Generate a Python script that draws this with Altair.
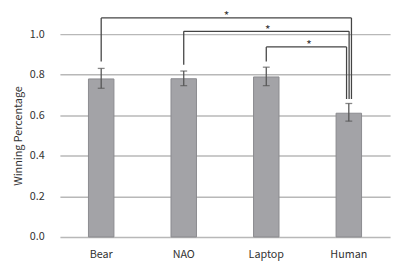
import altair as alt
import pandas as pd

categories = ["Bear", "NAO", "Laptop", "Human"]
win_pct = [0.779, 0.780, 0.789, 0.610]
err_low = [0.733, 0.746, 0.746, 0.571]
err_high = [0.831, 0.818, 0.837, 0.658]

br_left = ["Bear", "NAO", "Laptop"]
br_top = [1.080, 1.014, 0.937]
br_left_bottom = [0.865, 0.849, 0.865]
br_right_bottom = [0.680, 0.680, 0.680]
br_right_offset = [2.7, 0.3, -2.3]
star_y = [1.088, 1.022, 0.944]
star_label = ["*", "*", "*"]

FONT = "Noto Sans CJK JP"
xscale = alt.Scale(domain=categories, paddingInner=0, paddingOuter=0)

df = pd.DataFrame({"cat": categories, "v": win_pct, "lo": err_low, "hi": err_high})

xenc = alt.X("cat:N", scale=xscale, title=None,
             axis=alt.Axis(labelAngle=0, ticks=False, domain=False, labelPadding=12,
                           labelFont=FONT, labelFontSize=11, labelColor="#333"))
yenc = alt.Y("v:Q", title="Winning Percentage",
             scale=alt.Scale(domain=[0, 1], nice=False),
             axis=alt.Axis(values=[0, 0.2, 0.4, 0.6, 0.8, 1.0], format=".1f",
                           ticks=False, domain=False, gridColor="#b8b8b8", gridWidth=1.5,
                           labelPadding=16, labelFont=FONT, labelFontSize=11, labelColor="#333",
                           titleFont=FONT, titleFontSize=11, titleFontWeight="normal",
                           titleColor="#333", titlePadding=6))

xs = alt.X("cat:N", scale=xscale)
bars = alt.Chart(df).mark_bar(size=26, color="#a3a3a7", stroke="#8a8a8e", strokeWidth=1).encode(x=xenc, y=yenc)
errs = alt.Chart(df).mark_rule(color="#555", strokeWidth=1.3).encode(x=xs, y="lo:Q", y2="hi:Q")
caps_lo = alt.Chart(df).mark_tick(color="#555", size=7, thickness=1.3, orient="horizontal").encode(x=xs, y="lo:Q")
caps_hi = alt.Chart(df).mark_tick(color="#555", size=7, thickness=1.3, orient="horizontal").encode(x=xs, y="hi:Q")

layers = [bars, errs, caps_lo, caps_hi]
idx = {c: i for i, c in enumerate(categories)}
for i in range(len(br_left)):
    d = pd.DataFrame({"l": [br_left[i]], "r": ["Human"], "top": [br_top[i]],
                      "lb": [br_left_bottom[i]], "rb": [br_right_bottom[i]],
                      "sy": [star_y[i]], "s": [star_label[i]]})
    off = br_right_offset[i]
    h = alt.Chart(d).mark_rule(color="#444", strokeWidth=1.3, x2Offset=off).encode(
        x=alt.X("l:N", scale=xscale), x2="r:N", y="top:Q")
    lv = alt.Chart(d).mark_rule(color="#444", strokeWidth=1.3).encode(
        x=alt.X("l:N", scale=xscale), y="lb:Q", y2="top:Q")
    rv = alt.Chart(d).mark_rule(color="#444", strokeWidth=1.3, xOffset=off).encode(
        x=alt.X("r:N", scale=xscale), y="rb:Q", y2="top:Q")
    dx = (idx["Human"] - idx[br_left[i]]) * 84.25 / 2 + 1.5
    st = alt.Chart(d).mark_text(font=FONT, fontSize=12, color="#333", baseline="middle", dx=dx).encode(
        x=alt.X("l:N", scale=xscale), y="sy:Q", text="s:N")
    layers += [h, lv, rv, st]

chart = alt.layer(*layers).properties(
    width=337, height=207,
    autosize=alt.AutoSizeParams(type="none"),
    padding={"left": 53, "top": 24, "right": 4, "bottom": 27},
).configure_view(stroke=None)

chart.save("out.html", embed_options={"renderer": "svg", "actions": False})
